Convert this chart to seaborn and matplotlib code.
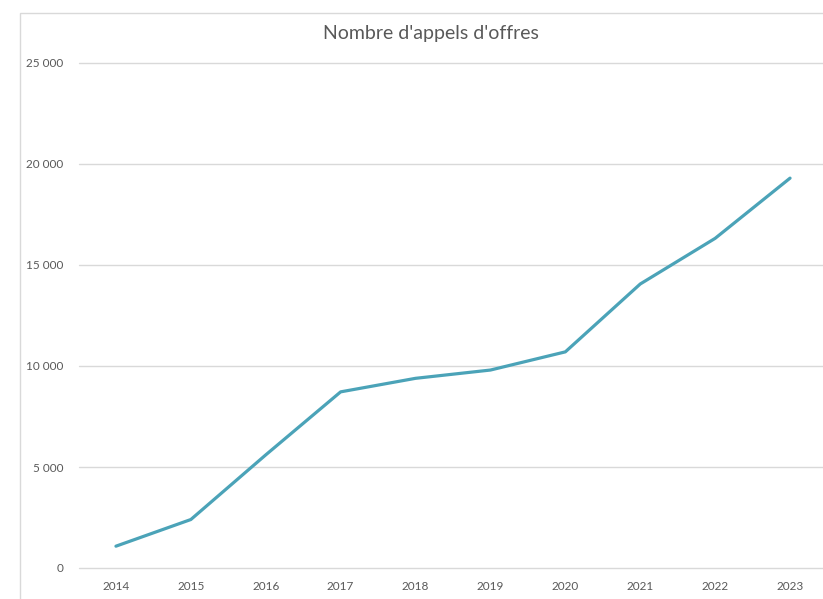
import matplotlib
matplotlib.use("Agg")
import matplotlib.pyplot as plt
import matplotlib.ticker as mticker
from matplotlib.patches import Rectangle
import pandas as pd
import seaborn as sns

# -------------------- Data --------------------
years = ["2014", "2015", "2016", "2017", "2018", "2019", "2020", "2021", "2022", "2023"]
appels = [1080, 2400, 5600, 8720, 9390, 9800, 10700, 14060, 16320, 19300]

TITLE = "Nombre d'appels d'offres"
LINE_COLOR = "#4BA3B8"
GRID_COLOR = "#D9D9D9"
TEXT_COLOR = "#595959"

df = pd.DataFrame({"annee": years, "appels": appels})

# -------------------- Plot --------------------
sns.set_theme(style="white")
plt.rcParams["font.family"] = ["Lato", "DejaVu Sans"]

W, H = 823, 599
fig = plt.figure(figsize=(W / 100, H / 100), dpi=100)
ax = fig.add_axes([78.5 / W, 1 - 568 / H, (827.5 - 78.5) / W, (568 - 63) / H])

# chart frame (Excel style)
fig.patches.append(Rectangle((20 / W, -0.01), 1.0, 1 - 13 / H + 0.01,
                             transform=fig.transFigure, fill=False,
                             edgecolor="#D9D9D9", linewidth=1.0))

sns.lineplot(data=df, x="annee", y="appels", ax=ax, color=LINE_COLOR,
             linewidth=2.3, sort=False)

ax.set_xlim(-0.5, len(years) - 0.5)
ax.set_ylim(0, 25000)
ax.yaxis.set_major_locator(mticker.MultipleLocator(5000))
ax.yaxis.set_major_formatter(mticker.FuncFormatter(lambda v, p: f"{int(v):,}".replace(",", " ")))
ax.grid(axis="y", color=GRID_COLOR, linewidth=1.0)
for gl in ax.get_ygridlines():
    gl.set_clip_on(False)
ax.set_axisbelow(True)
for s in ax.spines.values():
    s.set_visible(False)
ax.tick_params(axis="both", length=0, labelsize=8.5, colors=TEXT_COLOR)
ax.tick_params(axis="y", pad=11)
ax.tick_params(axis="x", pad=9)
ax.set_xlabel("")
ax.set_ylabel("")

fig.text(431 / W, 1 - 33 / H, TITLE, ha="center", va="center",
         fontsize=14, color=TEXT_COLOR)

fig.savefig("out.png", dpi=100)
